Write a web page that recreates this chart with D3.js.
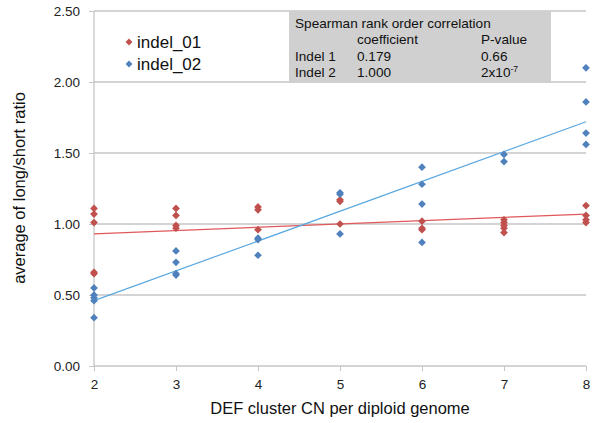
<!DOCTYPE html>
<html><head><meta charset="utf-8">
<script src="https://cdn.jsdelivr.net/npm/d3@7"></script>
<style>body{margin:0;background:#fff}svg{display:block;font-family:Arial,"Liberation Sans",sans-serif}</style>
</head><body><svg id="c" width="600" height="423"></svg>
<script>
const xTicks = [2,3,4,5,6,7,8];
const yTicks = [0,0.5,1.0,1.5,2.0,2.5];
const indel01X = [2,2,2,2,2, 3,3,3,3, 4,4,4, 5,5,5, 6,6,6, 7,7,7,7,7, 8,8,8,8];
const indel01Y = [1.11,1.07,1.01,0.66,0.65, 1.11,1.06,0.99,0.97, 1.12,1.10,0.96, 1.17,1.16,1.00, 1.02,0.97,0.96, 1.03,1.01,0.99,0.97,0.94, 1.13,1.06,1.03,1.01];
const indel02X = [2,2,2,2,2, 3,3,3,3, 4,4,4, 5,5,5, 6,6,6,6, 7,7, 8,8,8,8];
const indel02Y = [0.55,0.50,0.48,0.46,0.34, 0.81,0.73,0.65,0.64, 0.90,0.89,0.78, 1.22,1.21,0.93, 1.40,1.28,1.14,0.87, 1.49,1.44, 2.10,1.86,1.64,1.56];
const trend01 = [[2,0.93],[8,1.07]];
const trend02 = [[2,0.46],[8,1.72]];
const tableRows = [["Spearman rank order correlation","",""],["","coefficient","P-value"],["Indel 1","0.179","0.66"],["Indel 2","1.000","2x10"]];

const svg = d3.select("#c");
const x = d3.scaleLinear().domain([2,8]).range([94,586]);
const y = d3.scaleLinear().domain([0,2.5]).range([366,11]);
const red = "#C0504D", blue = "#4F81BD";

// gridlines
svg.append("g").selectAll("line").data(yTicks.filter(d=>d>0)).join("line")
  .attr("x1",x(2)).attr("x2",x(8)).attr("y1",d=>y(d)).attr("y2",d=>y(d))
  .attr("stroke","#c6c6c6").attr("stroke-width",1.3);

// y axis
const ya = svg.append("g").attr("transform",`translate(${x(2)},0)`)
  .call(d3.axisLeft(y).tickValues(yTicks).tickFormat(d3.format(".2f")).tickSize(5).tickPadding(9));
ya.select(".domain").attr("stroke","#c6c6c6").attr("stroke-width",1.3).attr("d",`M0,${y(0)}V${y(2.5)}`);
ya.selectAll(".tick line").attr("stroke","#c6c6c6");
ya.selectAll("text").attr("font-size",13.5).attr("fill","#222").attr("font-family","Arial,'Liberation Sans',sans-serif");

// x axis
const xa = svg.append("g").attr("transform",`translate(0,${y(0)})`)
  .call(d3.axisBottom(x).tickValues(xTicks).tickFormat(d3.format("d")).tickSize(5).tickPadding(8));
xa.select(".domain").attr("stroke","#c6c6c6").attr("stroke-width",1.3).attr("d",`M${x(2)},0H${x(8)}`);
xa.selectAll(".tick line").attr("stroke","#c6c6c6");
xa.selectAll("text").attr("font-size",13.5).attr("fill","#222").attr("font-family","Arial,'Liberation Sans',sans-serif");

// table box
const tb = svg.append("g");
tb.append("rect").attr("x",289).attr("y",11).attr("width",262).attr("height",72).attr("fill","#d0d0d0");
const colX = [295,357,481], rowY = [28,44,61,77];
tableRows.forEach((r,i)=>r.forEach((t,j)=>{
  if(!t) return;
  const te = tb.append("text").attr("x",colX[j]).attr("y",rowY[i]).attr("font-size",13.6).attr("fill","#111").text(t);
  if(i===3 && j===2) te.append("tspan").attr("dy",-5).attr("font-size",8.5).text("-7");
}));

// trendlines
const line = d3.line().x(d=>x(d[0])).y(d=>y(d[1]));
svg.append("path").attr("d",line(trend01)).attr("stroke","#E0585A").attr("stroke-width",1.2).attr("fill","none");
svg.append("path").attr("d",line(trend02)).attr("stroke","#5AA8E0").attr("stroke-width",1.2).attr("fill","none");

// points
const sym = d3.symbol().type(d3.symbolDiamond2).size(38);
function pts(xs,ys,c){
  svg.append("g").selectAll("path").data(xs.map((v,i)=>[v,ys[i]])).join("path")
    .attr("d",sym).attr("transform",d=>`translate(${x(d[0])},${y(d[1])})`).attr("fill",c);
}
pts(indel01X,indel01Y,red);
pts(indel02X,indel02Y,blue);

// legend
const lg = svg.append("g");
[["indel_01",red,42],["indel_02",blue,64]].forEach(([t,c,yy])=>{
  lg.append("path").attr("d",d3.symbol().type(d3.symbolDiamond2).size(30)).attr("transform",`translate(129,${yy})`).attr("fill",c);
  lg.append("text").attr("x",137).attr("y",yy+6).attr("font-size",17).attr("fill","#111").text(t);
});

// axis titles
svg.append("text").attr("x",340).attr("y",414).attr("text-anchor","middle").attr("font-size",16.5).attr("fill","#111").text("DEF cluster CN per diploid genome");
svg.append("text").attr("transform","translate(25,188) rotate(-90)").attr("text-anchor","middle").attr("font-size",16.5).attr("fill","#111").text("average of long/short ratio");
</script></body></html>
